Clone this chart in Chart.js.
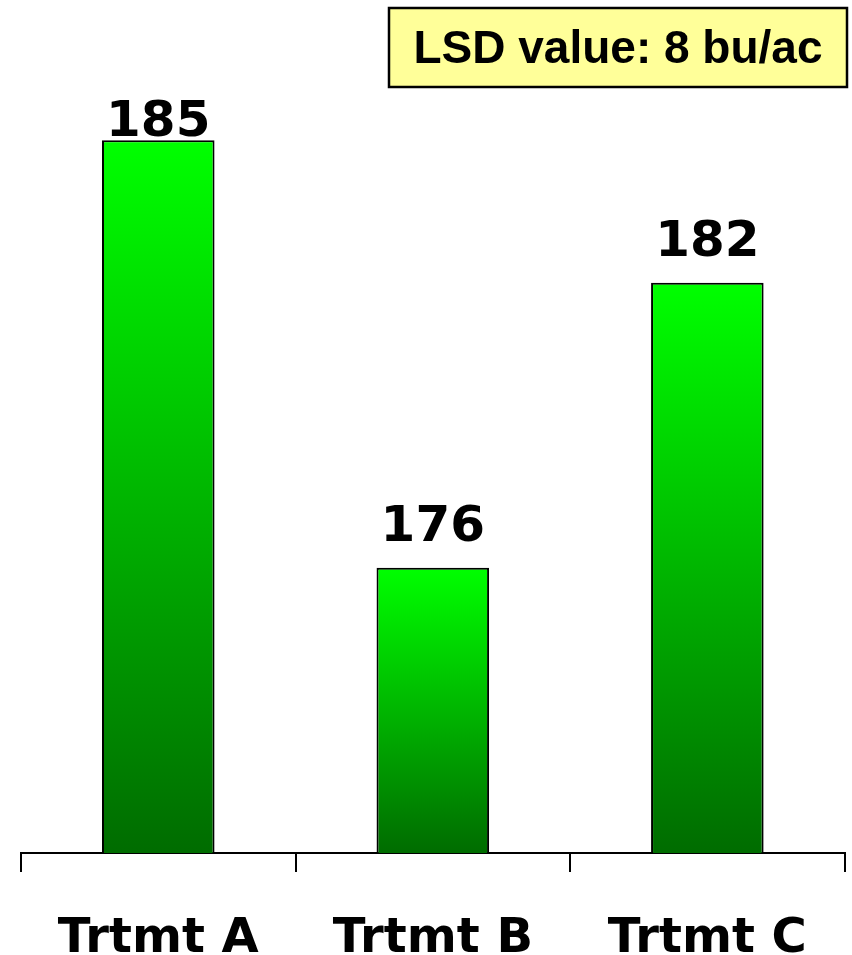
<!DOCTYPE html>
<html>
<head>
<meta charset="utf-8">
<script src="https://cdn.jsdelivr.net/npm/chart.js@4"></script>
<style>
  html, body { margin: 0; padding: 0; background: #fff; }
  #wrap { width: 852px; height: 955px; position: relative; }
</style>
</head>
<body>
<div id="wrap"><canvas id="yieldChart" width="852" height="955"></canvas></div>
<script>
const treatments = ["Trtmt A", "Trtmt B", "Trtmt C"];
const yields = [185, 176, 182];
const lsdNote = "LSD value: 8 bu/ac";

// gradient per bar: bright green at the top, dark green at the base
function barGradient(context) {
  const chart = context.chart;
  const area = chart.chartArea;
  if (!area || context.dataIndex === undefined) return "#00c000";
  const y = chart.scales.y;
  const top = y.getPixelForValue(yields[context.dataIndex]);
  const g = chart.ctx.createLinearGradient(0, top, 0, area.bottom);
  g.addColorStop(0, "#00ff00");
  g.addColorStop(1, "#006c00");
  return g;
}

const valueLabels = {
  id: "valueLabels",
  afterDatasetsDraw(chart) {
    const ctx = chart.ctx;
    const meta = chart.getDatasetMeta(0);
    ctx.save();
    ctx.font = "bold 50px 'DejaVu Sans'";
    ctx.fillStyle = "#000";
    ctx.textAlign = "center";
    ctx.textBaseline = "alphabetic";
    meta.data.forEach((bar, i) => {
      // keep label clear of the top note box
      const base = Math.max(bar.y - 27, 136);
      ctx.fillText(String(yields[i]), bar.x, base);
    });
    ctx.restore();
  }
};

const noteBox = {
  id: "noteBox",
  afterDraw(chart) {
    const ctx = chart.ctx;
    ctx.save();
    ctx.fillStyle = "#ffff99";
    ctx.fillRect(389, 8, 458, 79);
    ctx.strokeStyle = "#000";
    ctx.lineWidth = 2.5;
    ctx.strokeRect(389, 8, 458, 79);
    ctx.font = "bold 46px 'Liberation Sans', Arial";
    ctx.fillStyle = "#000";
    ctx.textAlign = "center";
    ctx.textBaseline = "alphabetic";
    ctx.fillText(lsdNote, 618, 63);
    ctx.restore();
  }
};

const ctx = document.getElementById("yieldChart").getContext("2d");
const chart = new Chart(ctx, {
  type: "bar",
  data: {
    labels: treatments,
    datasets: [
      {
        data: yields,
        backgroundColor: barGradient,
        borderColor: "#000",
        borderWidth: 2,
        borderSkipped: "bottom",
        barPercentage: 0.41,
        categoryPercentage: 1.0,
      },
    ],
  },
  options: {
    responsive: false,
    animation: false,
    layout: { padding: { left: 21, right: 7, top: 0, bottom: 0 } },
    plugins: {
      legend: { display: false },
      tooltip: { enabled: false },
    },
    scales: {
      x: {
        offset: true,
        afterFit(scale) { scale.height = 102; },
        border: { display: true, color: "#000", width: 2 },
        grid: {
          display: true,
          offset: true,
          drawOnChartArea: false,
          drawTicks: true,
          tickLength: 19,
          color: "#000",
          lineWidth: 2,
        },
        ticks: {
          color: "#000",
          padding: 44,
          font: { family: "'DejaVu Sans'", size: 48, weight: "bold", lineHeight: 1 },
        },
      },
      y: {
        display: false,
        min: 170,
        max: 187.95,
      },
    },
  },
  plugins: [valueLabels, noteBox],
});
</script>
</body>
</html>
